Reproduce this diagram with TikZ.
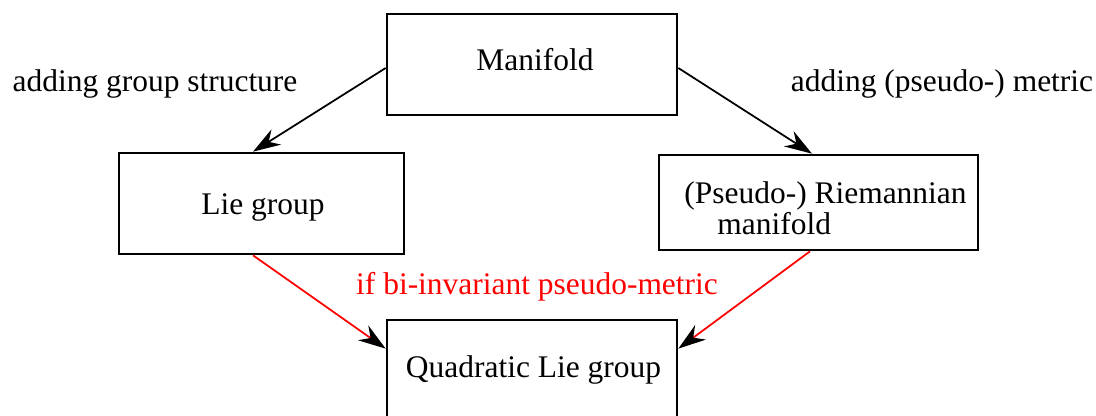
\documentclass[tikz,border=0pt]{standalone}
\usepackage{fontspec}
\setmainfont{Liberation Serif}
\usetikzlibrary{arrows.meta}

\tikzset{
  box/.style={draw, line width=1.5pt, inner sep=0pt},
  conn/.style={line width=1pt, -{Stealth[black, length=0.55cm, width=0.36cm, inset=0.18cm]}},
}

\begin{document}
\begin{tikzpicture}[font=\fontsize{17.9}{15.5}\selectfont]
  % Frame of the picture (1 px = 0.02 cm, y runs downwards)
  \useasboundingbox (0,0) rectangle (21.92,-8.32);

  % the four boxes
  \node[box, minimum width=5.8cm, minimum height=2.02cm] (man) at (10.64,-1.29) {};
  \node[box, minimum width=5.7cm, minimum height=2.02cm] (lie) at (5.23,-4.07) {};
  \node[box, minimum width=6.38cm, minimum height=1.9cm] (riem) at (16.37,-4.05) {};
  \node[box, minimum width=5.8cm, minimum height=2.02cm] (quad) at (10.64,-7.41) {};

  % texts in the boxes
  \node (mantxt) at (10.70,-1.20) {Manifold};
  \node (lietxt) at (5.26,-4.14) {Lie group};
  \node[align=left] (riemtxt) at (16.51,-4.17) {(Pseudo-) Riemannian\\\hspace{0.66cm}manifold};
  \node (quadtxt) at (10.67,-7.40) {Quadratic Lie group};

  % the labels beside the arrows
  \node (grouplbl) at (3.10,-1.68) {adding group structure};
  \node (metriclbl) at (18.84,-1.68) {adding (pseudo-) metric};
  \node[text=red] (bilbl) at (10.74,-5.74) {if bi-invariant pseudo-metric};

  % arrows downwards from the manifold
  \draw[conn] ([yshift=-0.07cm]man.west) -- ([xshift=-0.17cm]lie.north);
  \draw[conn] ([yshift=-0.07cm]man.east) -- ([xshift=-0.13cm]riem.north);

  % red arrows into the quadratic Lie group
  \draw[conn, red] ([xshift=-0.17cm]lie.south) -- ([yshift=-0.6cm]quad.north west);
  \draw[conn, red] ([xshift=-0.17cm]riem.south) -- ([yshift=-0.6cm]quad.north east);
\end{tikzpicture}
\end{document}
